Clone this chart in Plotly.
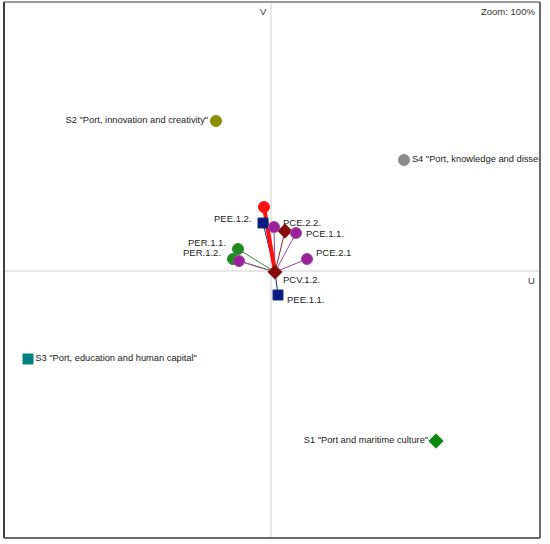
import plotly.graph_objects as go

# Indicator points (U, V coordinates) -- the origin point is PCV.1.2.
origin_label = "PCV.1.2."
origin_u, origin_v = 0.04, -0.01

ind_labels = ["", "PEE.1.2.", "", "PCE.2.2.", "PCE.1.1.", "PCE.2.1", "PER.1.1.", "PER.1.2.", "", "PEE.1.1."]
ind_u = [-0.07, -0.08, 0.03, 0.14, 0.25, 0.36, -0.33, -0.38, -0.32, 0.07]
ind_v = [0.64, 0.48, 0.44, 0.40, 0.38, 0.12, 0.22, 0.12, 0.10, -0.24]
ind_kind = ["red", "navy", "purple", "darkred", "purple", "purple", "green", "green", "purple", "navy"]

# Scenario points
sc_labels = ['S2 "Port, innovation and creativity"', 'S4 "Port, knowledge and dissemination"',
             'S3 "Port, education and human capital"', 'S1 "Port and maritime culture"']
sc_u = [-0.55, 1.33, -2.43, 1.65]
sc_v = [1.50, 1.11, -0.88, -1.70]

styles = {
    "red": dict(color="#ff1010", symbol="circle", size=11, line="#ff1010", lw=4),
    "navy": dict(color="#0a1a80", symbol="square", size=10, line="#14307a", lw=1),
    "purple": dict(color="#9c1f9c", symbol="circle", size=11, line="#9a4a9a", lw=1),
    "darkred": dict(color="#8a0a0a", symbol="diamond", size=11, line="#8a2a2a", lw=1),
    "green": dict(color="#1f8a1f", symbol="circle", size=11, line="#2e8b2e", lw=1),
}
sc_style = [
    dict(color="#8c8c00", symbol="circle", size=11, pos="middle left"),
    dict(color="#8a8a8a", symbol="circle", size=11, pos="middle right"),
    dict(color="#008080", symbol="square", size=10, pos="middle right"),
    dict(color="#0a8a0a", symbol="diamond", size=11, pos="middle left"),
]
# label offsets (pixels) for indicator labels: xanchor, xshift, yshift
label_pos = {
    "PEE.1.2.": ("right", -9, 5),
    "PCE.2.2.": ("left", -4, 9),
    "PCE.1.1.": ("left", 8, 0),
    "PCE.2.1": ("left", 7, 7),
    "PER.1.1.": ("right", -10, 7),
    "PER.1.2.": ("right", -10, 7),
    "PEE.1.1.": ("left", 7, -4),
}

FONT = "Liberation Sans"
fig = go.Figure()

# axis cross lines
fig.add_shape(type="line", x0=0, x1=0, y0=0, y1=1, xref="x", yref="paper",
              line=dict(color="#cfcfcf", width=1), layer="below")
fig.add_shape(type="line", x0=0, x1=1, y0=0, y1=0, xref="paper", yref="y",
              line=dict(color="#cfcfcf", width=1), layer="below")

# vectors from origin
order = [i for i in range(len(ind_u)) if ind_kind[i] != "red"] + [i for i in range(len(ind_u)) if ind_kind[i] == "red"]
for i in order:
    st = styles[ind_kind[i]]
    fig.add_trace(go.Scatter(
        x=[origin_u, ind_u[i]], y=[origin_v, ind_v[i]], mode="lines",
        line=dict(color=st["line"], width=st["lw"]), hoverinfo="skip"))

# indicator markers
for i in range(len(ind_u)):
    st = styles[ind_kind[i]]
    fig.add_trace(go.Scatter(
        x=[ind_u[i]], y=[ind_v[i]], mode="markers",
        marker=dict(color=st["color"], symbol=st["symbol"], size=st["size"],
                    line=dict(color=st["line"] if ind_kind[i] != "red" else "#ff1010", width=1)),
        hovertext=ind_labels[i], hoverinfo="text"))

# origin marker
fig.add_trace(go.Scatter(
    x=[origin_u], y=[origin_v], mode="markers",
    marker=dict(color="#8a0a0a", symbol="diamond", size=11, line=dict(color="#8a2a2a", width=1)),
    hovertext=origin_label, hoverinfo="text"))

# scenario markers with clipped text (S4 runs off the frame, as in the original)
for i in range(len(sc_u)):
    st = sc_style[i]
    fig.add_trace(go.Scatter(
        x=[sc_u[i]], y=[sc_v[i]], mode="markers+text", text=[sc_labels[i]],
        textposition=st["pos"], cliponaxis=True,
        textfont=dict(family=FONT, size=9.3, color="#222222"),
        marker=dict(color=st["color"], symbol=st["symbol"], size=st["size"],
                    line=dict(color=st["color"], width=1)),
        hoverinfo="text", hovertext=sc_labels[i]))

# indicator labels
for i, lab in enumerate(ind_labels):
    if not lab:
        continue
    anc, dx, dy = label_pos[lab]
    fig.add_annotation(x=ind_u[i], y=ind_v[i], text=lab, showarrow=False,
                       xanchor=anc, yanchor="middle", xshift=dx, yshift=dy,
                       font=dict(family=FONT, size=9.5, color="#222222"))
fig.add_annotation(x=origin_u, y=origin_v, text=origin_label, showarrow=False,
                   xanchor="left", yanchor="middle", xshift=6, yshift=-7,
                   font=dict(family=FONT, size=9.5, color="#222222"))

# axis names and zoom text
fig.add_annotation(x=0, y=1, xref="x", yref="paper", text="V", showarrow=False,
                   xanchor="right", yanchor="top", xshift=-2, yshift=-2,
                   font=dict(family=FONT, size=9.5, color="#333333"))
fig.add_annotation(x=1, y=0, xref="paper", yref="y", text="U", showarrow=False,
                   xanchor="right", yanchor="top", xshift=-3, yshift=-2,
                   font=dict(family=FONT, size=9.5, color="#333333"))
fig.add_annotation(x=1, y=1, xref="paper", yref="paper", text="Zoom: 100%", showarrow=False,
                   xanchor="right", yanchor="top", xshift=-3, yshift=-2,
                   font=dict(family=FONT, size=9.5, color="#333333"))

# frame (sunken look)
fig.add_shape(type="line", xref="paper", yref="paper", x0=0, x1=1, y0=1, y1=1,
              line=dict(color="#9a9a9a", width=2))
fig.add_shape(type="line", xref="paper", yref="paper", x0=0, x1=0, y0=0, y1=1,
              line=dict(color="#3c3c3c", width=2))
fig.add_shape(type="line", xref="paper", yref="paper", x0=1, x1=1, y0=0, y1=1,
              line=dict(color="#6a6a6a", width=2))
fig.add_shape(type="line", xref="paper", yref="paper", x0=0, x1=1, y0=0, y1=0,
              line=dict(color="#6a6a6a", width=2))

fig.update_xaxes(range=[-2.67, 2.69], visible=False, fixedrange=True)
fig.update_yaxes(range=[-2.67, 2.69], visible=False, fixedrange=True)
fig.update_layout(
    width=550, height=544,
    margin=dict(l=4, r=10, t=2, b=6),
    plot_bgcolor="white", paper_bgcolor="white",
    showlegend=False,
)

fig.write_html("out.html", config={"displayModeBar": False},
               post_script="document.body.style.margin='0';")
